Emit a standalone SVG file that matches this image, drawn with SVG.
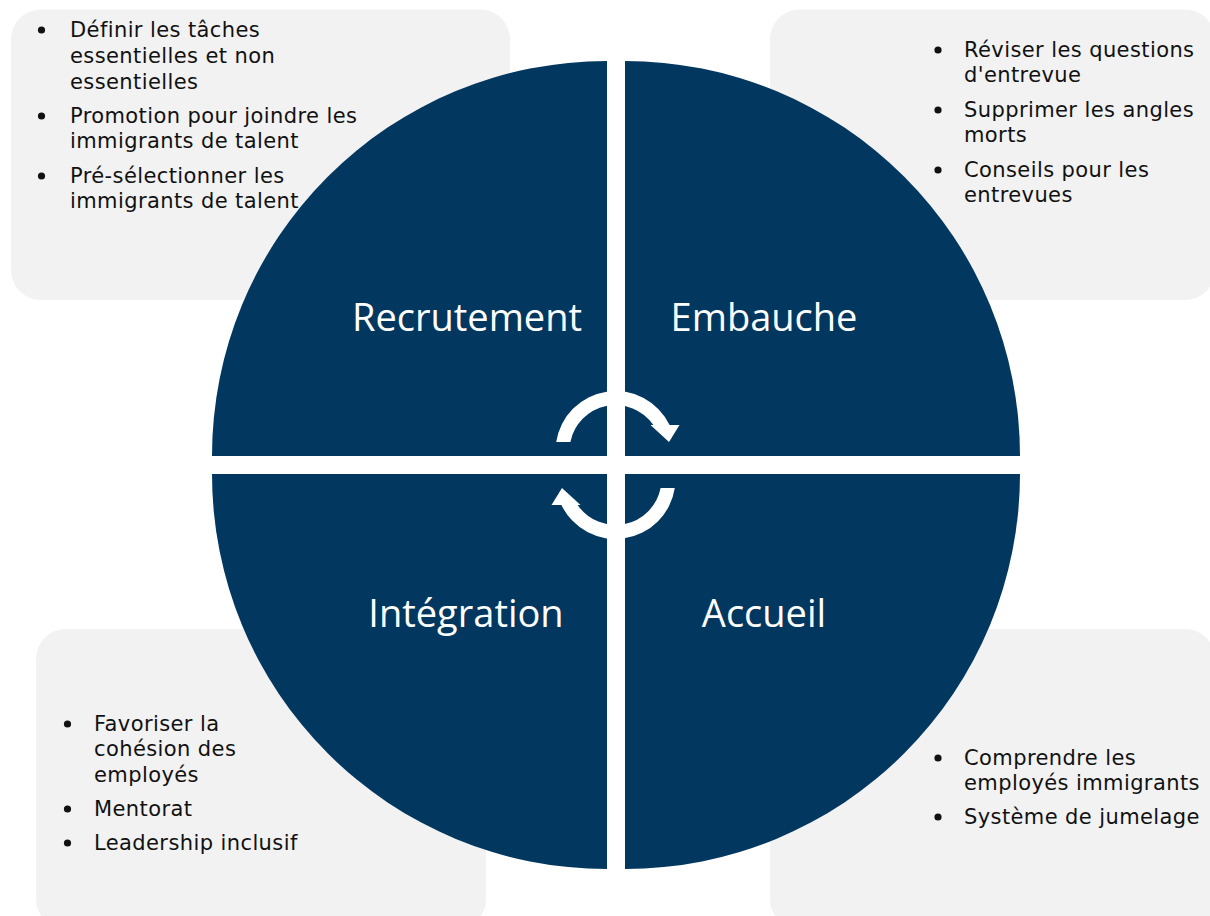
<svg xmlns="http://www.w3.org/2000/svg" width="1210" height="916" viewBox="0 0 1210 916">
<style>
.box{fill:#f2f2f2}
.q{fill:#02375f}
.lbl{font-family:"Open Sans","Noto Sans",sans-serif;font-size:38px;fill:#ffffff;text-anchor:middle}
.t{font-family:"DejaVu Sans","Noto Sans",sans-serif;font-size:21px;fill:#111111;letter-spacing:0.4px}
.b{fill:#111111}
.arr{fill:#ffffff}
</style>
<rect width="1210" height="916" fill="#ffffff"/>
<g id="box-recrutement"><rect class="box" x="11" y="9.5" width="499" height="290.5" rx="30"/>
<circle class="b" cx="41.5" cy="30" r="3.6"/>
<text class="t" x="70" y="37">Définir les tâches</text>
<text class="t" x="70" y="63">essentielles et non</text>
<text class="t" x="70" y="89">essentielles</text>
<circle class="b" cx="41.5" cy="116" r="3.6"/>
<text class="t" x="70" y="123">Promotion pour joindre les</text>
<text class="t" x="70" y="148">immigrants de talent</text>
<circle class="b" cx="41.5" cy="176" r="3.6"/>
<text class="t" x="70" y="183">Pré-sélectionner les</text>
<text class="t" x="70" y="208">immigrants de talent</text>
</g>
<g id="box-embauche"><rect class="box" x="770" y="9.5" width="445" height="290.5" rx="30"/></g>
<g id="box-integration"><rect class="box" x="36" y="629" width="450" height="300" rx="30"/></g>
<g id="box-accueil"><rect class="box" x="770" y="629" width="445" height="300" rx="30"/></g>
<g id="quadrant-recrutement"><path class="q" d="M607,456 L212,456 A395,395 0 0 1 607,61 Z"/><text class="lbl" x="467" y="331">Recrutement</text></g>
<g id="quadrant-embauche"><path class="q" d="M625,456 L625,61 A395,395 0 0 1 1020,456 Z"/><text class="lbl" x="764" y="331">Embauche</text></g>
<g id="quadrant-integration"><path class="q" d="M607,474 L607,869 A395,395 0 0 1 212,474 Z"/><text class="lbl" x="466" y="627">Intégration</text></g>
<g id="quadrant-accueil"><path class="q" d="M625,474 L1020,474 A395,395 0 0 1 625,869 Z"/><text class="lbl" x="764" y="627">Accueil</text></g>
<g id="text-embauche">
<circle class="b" cx="938" cy="50" r="3.6"/>
<text class="t" x="964" y="57">Réviser les questions</text>
<text class="t" x="964" y="82">d'entrevue</text>
<circle class="b" cx="938" cy="110" r="3.6"/>
<text class="t" x="964" y="117">Supprimer les angles</text>
<text class="t" x="964" y="142">morts</text>
<circle class="b" cx="938" cy="170" r="3.6"/>
<text class="t" x="964" y="177">Conseils pour les</text>
<text class="t" x="964" y="202">entrevues</text>
</g>
<g id="text-integration">
<circle class="b" cx="67.5" cy="724" r="3.6"/>
<text class="t" x="94" y="731">Favoriser la</text>
<text class="t" x="94" y="756">cohésion des</text>
<text class="t" x="94" y="782">employés</text>
<circle class="b" cx="67.5" cy="809" r="3.6"/>
<text class="t" x="94" y="816">Mentorat</text>
<circle class="b" cx="67.5" cy="843" r="3.6"/>
<text class="t" x="94" y="850">Leadership inclusif</text>
</g>
<g id="text-accueil">
<circle class="b" cx="938" cy="758" r="3.6"/>
<text class="t" x="964" y="765">Comprendre les</text>
<text class="t" x="964" y="790">employés immigrants</text>
<circle class="b" cx="938" cy="817" r="3.6"/>
<text class="t" x="964" y="824">Système de jumelage</text>
</g>
<g id="connectors">
<g id="arrow-top"><path class="arr" d="M556.2,442 A60,60 0 0 1 669.6,425 L653.4,425 A46,46 0 0 0 570.4,442 Z"/><polygon class="arr" points="650.5,425 679.5,425 669,442"/></g>
<g id="arrow-bottom" transform="rotate(180 615.5 465)"><path class="arr" d="M556.2,442 A60,60 0 0 1 669.6,425 L653.4,425 A46,46 0 0 0 570.4,442 Z"/><polygon class="arr" points="650.5,425 679.5,425 669,442"/></g>
</g>
</svg>
